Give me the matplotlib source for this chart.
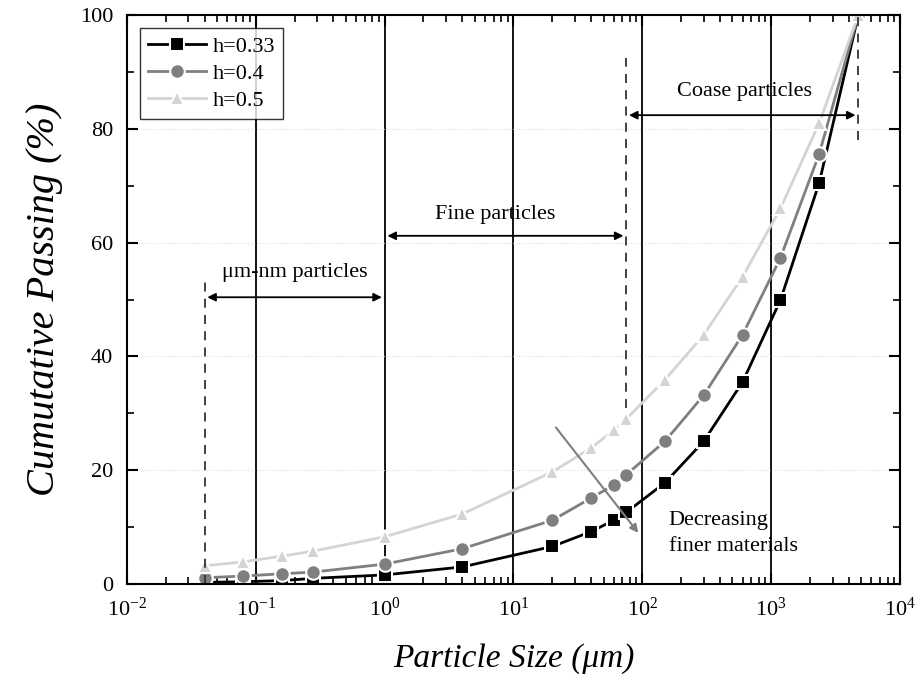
import numpy as np
import matplotlib.pyplot as plt
from matplotlib.ticker import FixedLocator, LogFormatterSciNotation, NullFormatter

plt.rcParams['font.family'] = ['Liberation Serif', 'DejaVu Serif']
plt.rcParams['mathtext.fontset'] = 'custom'
plt.rcParams['mathtext.rm'] = 'Liberation Serif'

# particle sizes (um)
sizes = [0.04, 0.08, 0.16, 0.28, 1, 4, 20, 40, 60, 75, 150, 300, 600, 1180, 2360, 4750]

# cumulative passing (%)
h033 = [0.3, 0.4, 0.6, 1.0, 1.6, 3.0, 6.6, 9.2, 11.2, 12.6, 17.8, 25.1, 35.5, 49.9, 70.5, 100]
h04 = [1.1, 1.4, 1.8, 2.1, 3.5, 6.2, 11.2, 15.1, 17.4, 19.2, 25.1, 33.2, 43.8, 57.3, 75.6, 100]
h05 = [3.2, 3.9, 4.9, 5.8, 8.3, 12.3, 19.7, 23.9, 27.0, 29.0, 35.9, 43.8, 54.0, 66.0, 81.0, 100]

labels = ['h=0.33', 'h=0.4', 'h=0.5']
colors = ['black', '#7f7f7f', '#d4d4d4']
markers = ['s', 'o', '^']

x_major = [1e-2, 1e-1, 1e0, 1e1, 1e2, 1e3, 1e4]

fig = plt.figure(figsize=(9.18, 6.74), dpi=100)
ax = fig.add_axes([0.1383, 0.1335, 0.8421, 0.8442])

for y, lab, c, m in zip([h033, h04, h05], labels, colors, markers):
    ax.plot(sizes, y, color=c, marker=m, markersize=10.5, lw=2,
            markeredgecolor='white', markeredgewidth=1.5, label=lab)

# region boundaries
for xv in [0.1, 1, 10, 100, 1000]:
    ax.plot([xv, xv], [0, 100], color='black', lw=1.3, zorder=1)
ax.plot([0.04, 0.04], [0, 54], color='#333333', lw=1.3, ls=(0, (5, 4)))
ax.plot([75, 75], [31, 92.5], color='#333333', lw=1.3, ls=(0, (5, 4)))
ax.plot([4750, 4750], [78, 100], color='#333333', lw=1.3, ls=(0, (5, 4)))

arrow = dict(arrowstyle='<|-|>', color='black', lw=1.3, mutation_scale=12)
ax.annotate('', xy=(0.04, 50.4), xytext=(1, 50.4), arrowprops=arrow)
ax.annotate('', xy=(1, 61.2), xytext=(75, 61.2), arrowprops=arrow)
ax.annotate('', xy=(75, 82.4), xytext=(4750, 82.4), arrowprops=arrow)
ax.text(0.2, 54.8, 'μm-nm particles', fontsize=16, ha='center', va='center')
ax.text(7.2, 64.9, 'Fine particles', fontsize=16, ha='center', va='center')
ax.text(617, 86.5, 'Coase particles', fontsize=16, ha='center', va='center')

ax.annotate('', xy=(96, 8.6), xytext=(20.7, 27.9),
            arrowprops=dict(arrowstyle='-|>', color='#7f7f7f', lw=1.5, mutation_scale=12))
ax.text(160, 8.8, 'Decreasing\nfiner materials', fontsize=16, ha='left', va='center',
        linespacing=1.5)

ax.set_xscale('log')
ax.set_xlim(0.01, 10000)
ax.set_ylim(0, 100)
minors = [d * k for d in x_major[:-1] for k in range(2, 10)]
ax.xaxis.set_major_locator(FixedLocator(x_major))
ax.xaxis.set_major_formatter(LogFormatterSciNotation())
ax.xaxis.set_minor_locator(FixedLocator(minors))
ax.xaxis.set_minor_formatter(NullFormatter())
ax.set_yticks([0, 20, 40, 60, 80, 100])
ax.yaxis.set_minor_locator(FixedLocator([10, 30, 50, 70, 90]))
ax.tick_params(which='both', direction='in', top=True, right=True, labelsize=16)
ax.tick_params(which='major', length=8, width=1.5, pad=10)
ax.tick_params(which='minor', length=5, width=1.2)
ax.grid(axis='y', which='major', color='#dddddd', ls=':', lw=0.8)
for s in ax.spines.values():
    s.set_linewidth(1.5)

ax.set_xlabel('Particle Size (μm)', fontsize=24, style='italic', labelpad=16)
ax.set_ylabel('Cumutative Passing (%)', fontsize=29, style='italic', labelpad=12)

leg = ax.legend(loc='upper left', fontsize=16, frameon=True, fancybox=False,
                edgecolor='black', handlelength=2.6, borderpad=0.35, labelspacing=0.3,
                handletextpad=0.3, borderaxespad=0.6)
leg.get_frame().set_linewidth(1.0)

fig.savefig('out.png', dpi=100)
